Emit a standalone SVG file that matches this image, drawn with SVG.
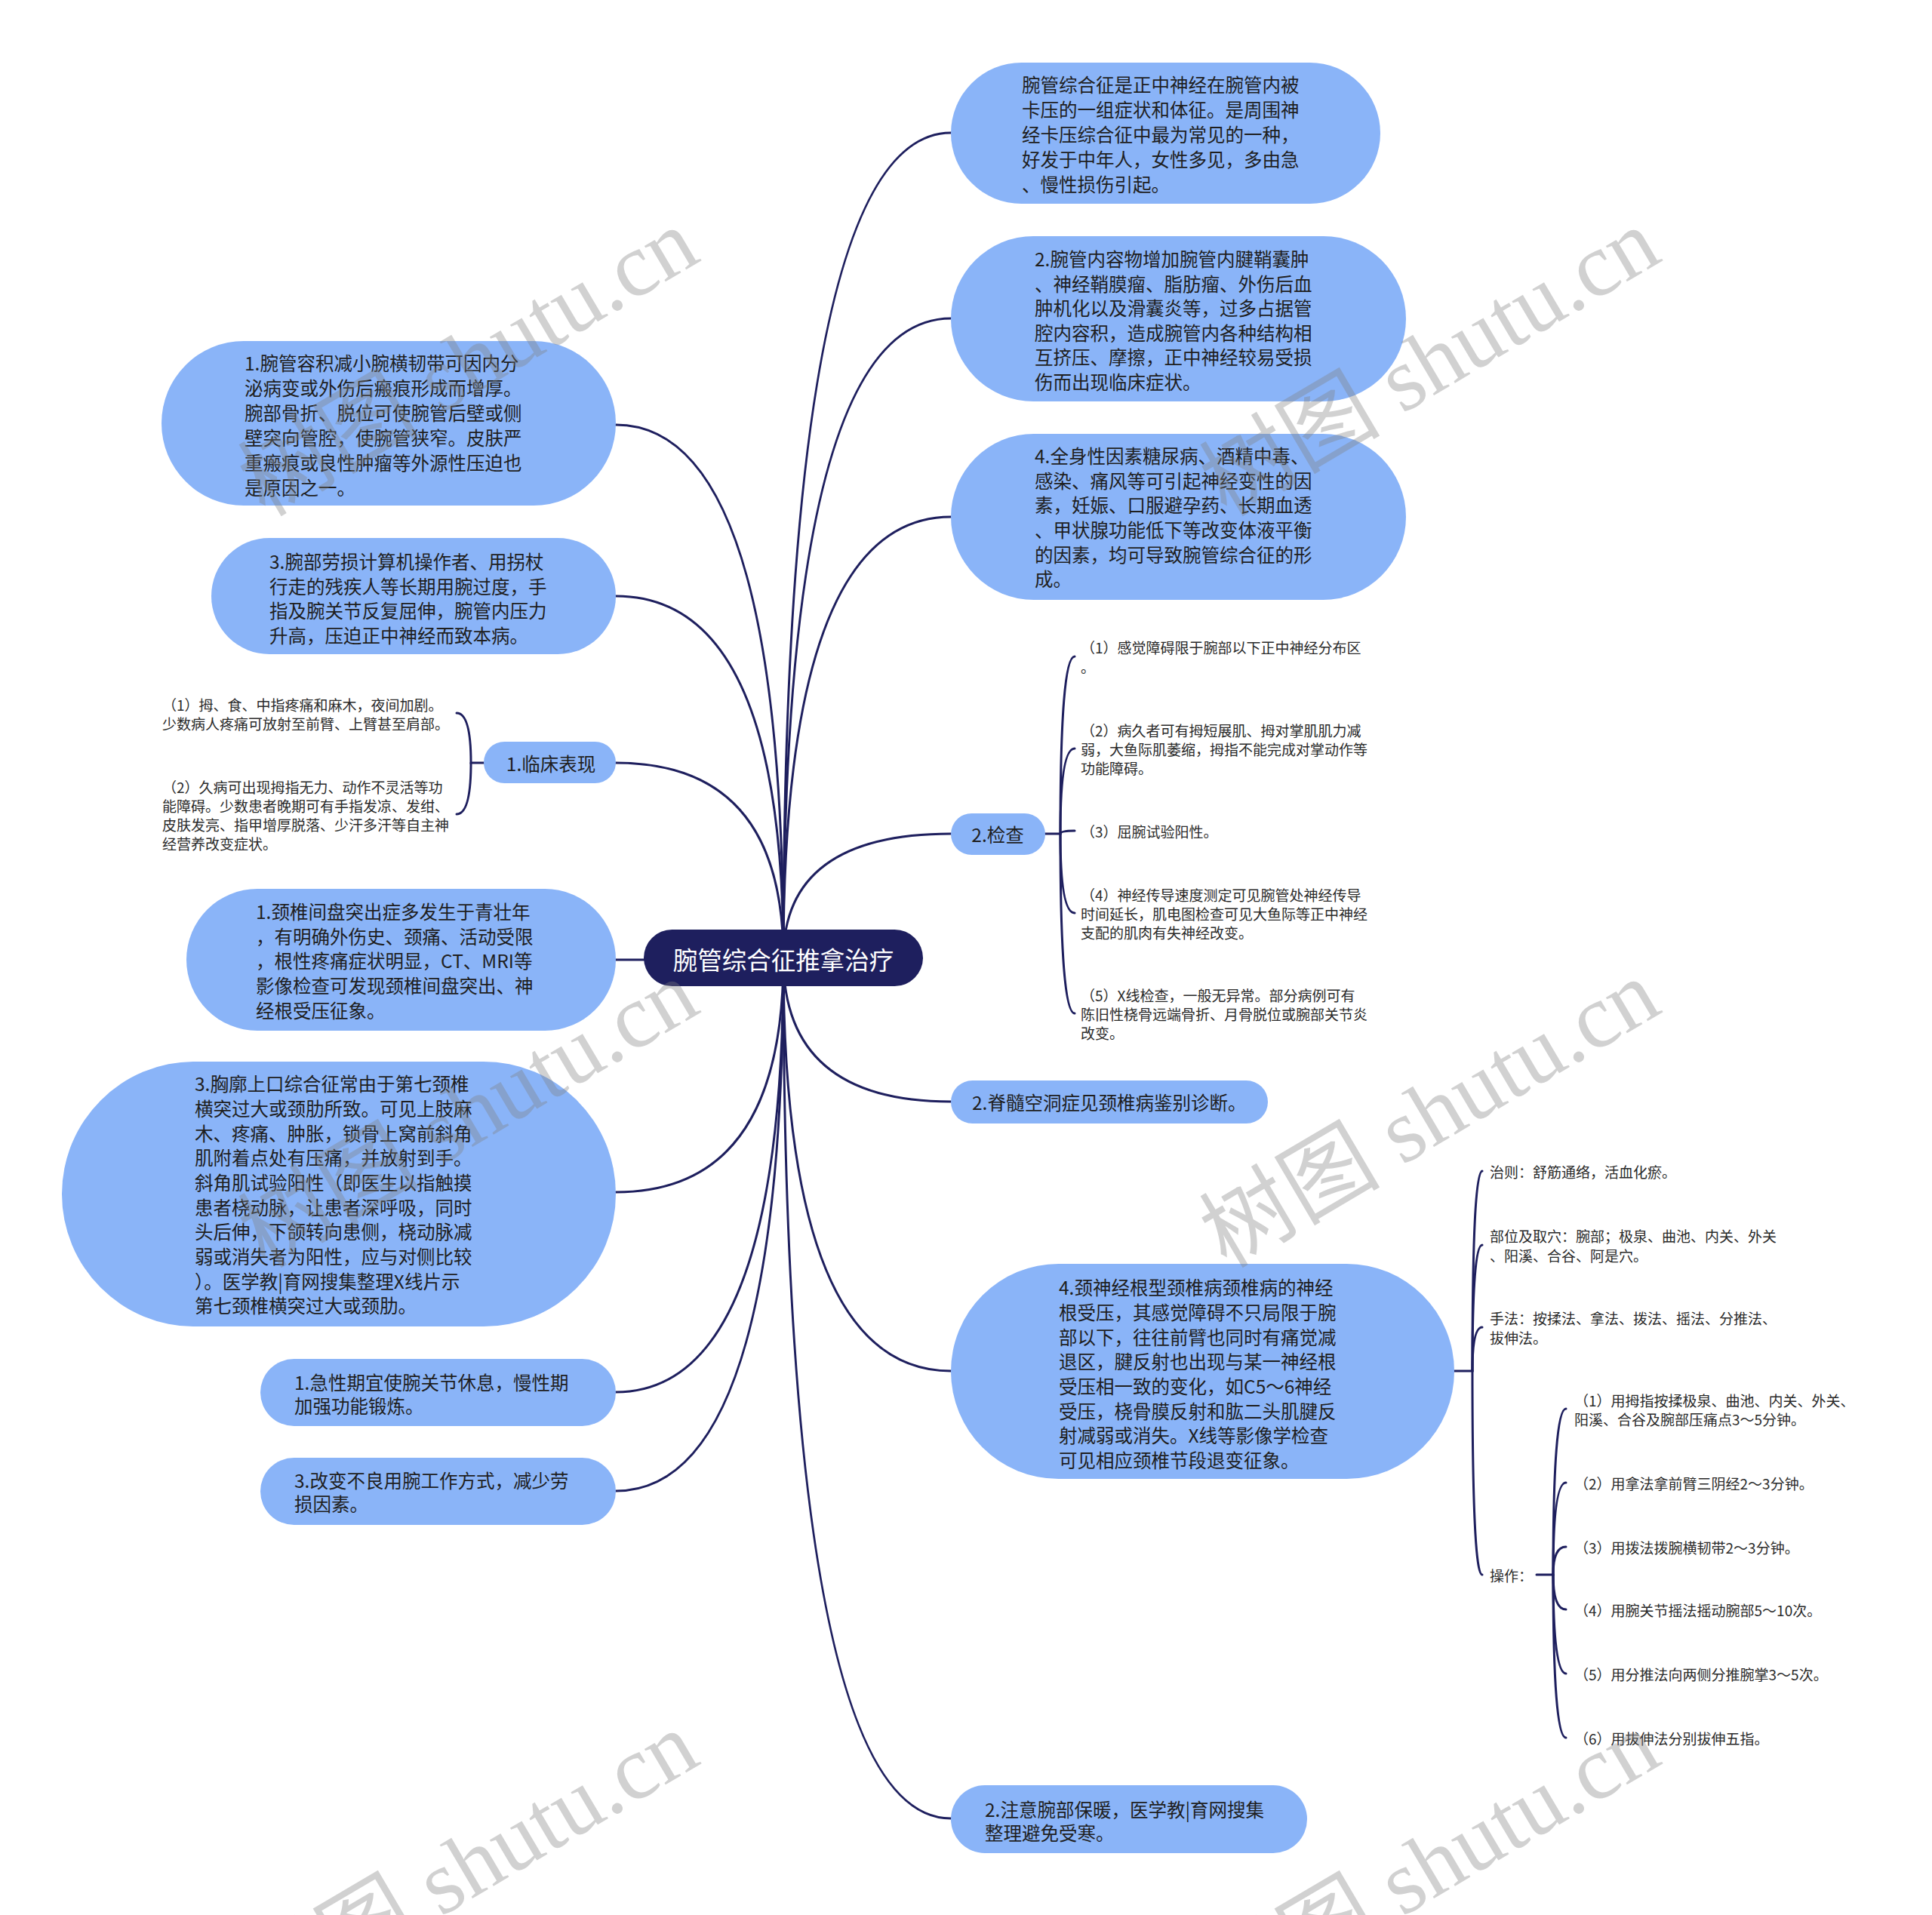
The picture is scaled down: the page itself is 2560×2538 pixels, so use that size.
<svg xmlns="http://www.w3.org/2000/svg" width="2560" height="2538" viewBox="0 0 2560 2538">
<style>
.bg{fill:#ffffff}
.n{fill:#8AB4F8}
.c{fill:none;stroke:#1E1F5E;stroke-width:3;stroke-linecap:round}
.t{font-family:"Noto Sans CJK SC","Noto Sans",sans-serif;font-size:24.5px;fill:#1f1f1f;dominant-baseline:central}
.s{font-family:"Noto Sans CJK SC","Noto Sans",sans-serif;font-size:19px;fill:#2a2a2a;dominant-baseline:central}
.r{font-family:"Noto Sans CJK SC","Noto Sans",sans-serif;font-size:32.5px;fill:#ffffff;dominant-baseline:central;text-anchor:middle}
.m{text-anchor:middle}
.w{font-family:"Liberation Serif","Noto Sans CJK SC",serif;font-size:120px;fill:#808080;fill-opacity:0.36}
</style>
<rect class="bg" x="0" y="0" width="2560" height="2538"/>
<g id="connectors">
<path class="c" d="M1038 1270 Q1038 176 1260 176"/>
<path class="c" d="M1038 1270 Q1038 422 1260 422"/>
<path class="c" d="M1038 1270 Q1038 685 1260 685"/>
<path class="c" d="M1038 1270 Q1038 1105 1260 1105"/>
<path class="c" d="M1038 1270 Q1038 1460 1260 1460"/>
<path class="c" d="M1038 1270 Q1038 1817 1260 1817"/>
<path class="c" d="M1038 1270 Q1038 2410 1260 2410"/>
<path class="c" d="M1038 1270 Q1038 563 816 563"/>
<path class="c" d="M1038 1270 Q1038 790 816 790"/>
<path class="c" d="M1038 1270 Q1038 1011 816 1011"/>
<path class="c" d="M1038 1270 Q1038 1272 816 1272"/>
<path class="c" d="M1038 1270 Q1038 1580 816 1580"/>
<path class="c" d="M1038 1270 Q1038 1845 816 1845"/>
<path class="c" d="M1038 1270 Q1038 1976 816 1976"/>
<path class="c" d="M1385 1105 L1405 1105 Q1405 870 1424 870"/>
<path class="c" d="M1405 1105 Q1405 992 1424 992"/>
<path class="c" d="M1405 1105 Q1405 1101 1424 1101"/>
<path class="c" d="M1405 1105 Q1405 1210 1424 1210"/>
<path class="c" d="M1405 1105 Q1405 1343 1424 1343"/>
<path class="c" d="M641 1011 L624 1011 Q624 945 605 945"/>
<path class="c" d="M624 1011 Q624 1079 605 1079"/>
<path class="c" d="M1927 1817 L1951 1817 Q1951 1552 1964 1552"/>
<path class="c" d="M1951 1817 Q1951 1650 1964 1650"/>
<path class="c" d="M1951 1817 Q1951 1759 1964 1759"/>
<path class="c" d="M1951 1817 Q1951 2087 1964 2087"/>
<path class="c" d="M2036 2087 L2058 2087 Q2058 1867 2075 1867"/>
<path class="c" d="M2058 2087 Q2058 1965 2075 1965"/>
<path class="c" d="M2058 2087 Q2058 2050 2075 2050"/>
<path class="c" d="M2058 2087 Q2058 2133 2075 2133"/>
<path class="c" d="M2058 2087 Q2058 2218 2075 2218"/>
<path class="c" d="M2058 2087 Q2058 2303 2075 2303"/>
</g>
<g id="root">
<rect x="853" y="1232" width="370" height="75" rx="37.5" fill="#1E1F5E"/>
<text class="r" x="1038" y="1270">腕管综合征推拿治疗</text>
</g>
<g id="r1">
<rect class="n" x="1260" y="83" width="569" height="187" rx="93.5"/>
<text class="t" x="1354" y="111">腕管综合征是正中神经在腕管内被</text>
<text class="t" x="1354" y="144">卡压的一组症状和体征。是周围神</text>
<text class="t" x="1354" y="177">经卡压综合征中最为常见的一种，</text>
<text class="t" x="1354" y="210">好发于中年人，女性多见，多由急</text>
<text class="t" x="1354" y="243">、慢性损伤引起。</text>
</g>
<g id="r2">
<rect class="n" x="1260" y="313" width="603" height="219" rx="109.5"/>
<text class="t" x="1371" y="342">2.腕管内容物增加腕管内腱鞘囊肿</text>
<text class="t" x="1371" y="375">、神经鞘膜瘤、脂肪瘤、外伤后血</text>
<text class="t" x="1371" y="407">肿机化以及滑囊炎等，过多占据管</text>
<text class="t" x="1371" y="440">腔内容积，造成腕管内各种结构相</text>
<text class="t" x="1371" y="472">互挤压、摩擦，正中神经较易受损</text>
<text class="t" x="1371" y="505">伤而出现临床症状。</text>
</g>
<g id="r3">
<rect class="n" x="1260" y="575" width="603" height="220" rx="110"/>
<text class="t" x="1371" y="603">4.全身性因素糖尿病、酒精中毒、</text>
<text class="t" x="1371" y="636">感染、痛风等可引起神经变性的因</text>
<text class="t" x="1371" y="668">素，妊娠、口服避孕药、长期血透</text>
<text class="t" x="1371" y="701">、甲状腺功能低下等改变体液平衡</text>
<text class="t" x="1371" y="734">的因素，均可导致腕管综合征的形</text>
<text class="t" x="1371" y="766">成。</text>
</g>
<g id="r4">
<rect class="n" x="1260" y="1078" width="125" height="55" rx="27.5"/>
<text class="t m" x="1322" y="1105">2.检查</text>
</g>
<g id="r4-children">
<text class="s" x="1432" y="857">（1）感觉障碍限于腕部以下正中神经分布区</text>
<text class="s" x="1432" y="883">。</text>
<text class="s" x="1432" y="967">（2）病久者可有拇短展肌、拇对掌肌肌力减</text>
<text class="s" x="1432" y="992">弱，大鱼际肌萎缩，拇指不能完成对掌动作等</text>
<text class="s" x="1432" y="1017">功能障碍。</text>
<text class="s" x="1432" y="1101">（3）屈腕试验阳性。</text>
<text class="s" x="1432" y="1185">（4）神经传导速度测定可见腕管处神经传导</text>
<text class="s" x="1432" y="1210">时间延长，肌电图检查可见大鱼际等正中神经</text>
<text class="s" x="1432" y="1235">支配的肌肉有失神经改变。</text>
<text class="s" x="1432" y="1318">（5）X线检查，一般无异常。部分病例可有</text>
<text class="s" x="1432" y="1343">陈旧性桡骨远端骨折、月骨脱位或腕部关节炎</text>
<text class="s" x="1432" y="1368">改变。</text>
</g>
<g id="r5">
<rect class="n" x="1260" y="1432" width="420" height="57" rx="28.5"/>
<text class="t" x="1288" y="1460">2.脊髓空洞症见颈椎病鉴别诊断。</text>
</g>
<g id="r6">
<rect class="n" x="1260" y="1675" width="667" height="285" rx="142.5"/>
<text class="t" x="1403" y="1705">4.颈神经根型颈椎病颈椎病的神经</text>
<text class="t" x="1403" y="1738">根受压，其感觉障碍不只局限于腕</text>
<text class="t" x="1403" y="1771">部以下，往往前臂也同时有痛觉减</text>
<text class="t" x="1403" y="1803">退区，腱反射也出现与某一神经根</text>
<text class="t" x="1403" y="1836">受压相一致的变化，如C5～6神经</text>
<text class="t" x="1403" y="1869">受压，桡骨膜反射和肱二头肌腱反</text>
<text class="t" x="1403" y="1901">射减弱或消失。X线等影像学检查</text>
<text class="t" x="1403" y="1934">可见相应颈椎节段退变征象。</text>
</g>
<g id="r6-children">
<text class="s" x="1974" y="1552">治则：舒筋通络，活血化瘀。</text>
<text class="s" x="1974" y="1637">部位及取穴：腕部；极泉、曲池、内关、外关</text>
<text class="s" x="1974" y="1663">、阳溪、合谷、阿是穴。</text>
<text class="s" x="1974" y="1746">手法：按揉法、拿法、拨法、摇法、分推法、</text>
<text class="s" x="1974" y="1772">拔伸法。</text>
<text class="s" x="1974" y="2087">操作：</text>
</g>
<g id="op-children">
<text class="s" x="2086" y="1855">（1）用拇指按揉极泉、曲池、内关、外关、</text>
<text class="s" x="2086" y="1880">阳溪、合谷及腕部压痛点3～5分钟。</text>
<text class="s" x="2086" y="1965">（2）用拿法拿前臂三阴经2～3分钟。</text>
<text class="s" x="2086" y="2050">（3）用拨法拨腕横韧带2～3分钟。</text>
<text class="s" x="2086" y="2133">（4）用腕关节摇法摇动腕部5～10次。</text>
<text class="s" x="2086" y="2218">（5）用分推法向两侧分推腕掌3～5次。</text>
<text class="s" x="2086" y="2303">（6）用拔伸法分别拔伸五指。</text>
</g>
<g id="r7">
<rect class="n" x="1260" y="2366" width="472" height="90" rx="45"/>
<text class="t" x="1305" y="2397">2.注意腕部保暖，医学教|育网搜集</text>
<text class="t" x="1305" y="2428">整理避免受寒。</text>
</g>
<g id="l1">
<rect class="n" x="214" y="452" width="602" height="218" rx="109"/>
<text class="t" x="324" y="480">1.腕管容积减小腕横韧带可因内分</text>
<text class="t" x="324" y="513">泌病变或外伤后瘢痕形成而增厚。</text>
<text class="t" x="324" y="546">腕部骨折、脱位可使腕管后壁或侧</text>
<text class="t" x="324" y="579">壁突向管腔，使腕管狭窄。皮肤严</text>
<text class="t" x="324" y="612">重瘢痕或良性肿瘤等外源性压迫也</text>
<text class="t" x="324" y="645">是原因之一。</text>
</g>
<g id="l2">
<rect class="n" x="280" y="713" width="536" height="154" rx="77"/>
<text class="t" x="357" y="743">3.腕部劳损计算机操作者、用拐杖</text>
<text class="t" x="357" y="776">行走的残疾人等长期用腕过度，手</text>
<text class="t" x="357" y="808">指及腕关节反复屈伸，腕管内压力</text>
<text class="t" x="357" y="841">升高，压迫正中神经而致本病。</text>
</g>
<g id="l3">
<rect class="n" x="641" y="983" width="175" height="55" rx="27.5"/>
<text class="t m" x="730" y="1011">1.临床表现</text>
</g>
<g id="l3-children">
<text class="s" x="215" y="933">（1）拇、食、中指疼痛和麻木，夜间加剧。</text>
<text class="s" x="215" y="958">少数病人疼痛可放射至前臂、上臂甚至肩部。</text>
<text class="s" x="215" y="1042">（2）久病可出现拇指无力、动作不灵活等功</text>
<text class="s" x="215" y="1067">能障碍。少数患者晚期可有手指发凉、发绀、</text>
<text class="s" x="215" y="1092">皮肤发亮、指甲增厚脱落、少汗多汗等自主神</text>
<text class="s" x="215" y="1117">经营养改变症状。</text>
</g>
<g id="l4">
<rect class="n" x="247" y="1178" width="569" height="188" rx="94"/>
<text class="t" x="339" y="1207">1.颈椎间盘突出症多发生于青壮年</text>
<text class="t" x="339" y="1240">，有明确外伤史、颈痛、活动受限</text>
<text class="t" x="339" y="1272">，根性疼痛症状明显，CT、MRI等</text>
<text class="t" x="339" y="1305">影像检查可发现颈椎间盘突出、神</text>
<text class="t" x="339" y="1338">经根受压征象。</text>
</g>
<g id="l5">
<rect class="n" x="82" y="1407" width="734" height="351" rx="175.5"/>
<text class="t" x="258" y="1435">3.胸廓上口综合征常由于第七颈椎</text>
<text class="t" x="258" y="1468">横突过大或颈肋所致。可见上肢麻</text>
<text class="t" x="258" y="1501">木、疼痛、肿胀，锁骨上窝前斜角</text>
<text class="t" x="258" y="1533">肌附着点处有压痛，并放射到手。</text>
<text class="t" x="258" y="1566">斜角肌试验阳性（即医生以指触摸</text>
<text class="t" x="258" y="1599">患者桡动脉，让患者深呼吸，同时</text>
<text class="t" x="258" y="1631">头后伸，下颌转向患侧，桡动脉减</text>
<text class="t" x="258" y="1664">弱或消失者为阳性，应与对侧比较</text>
<text class="t" x="258" y="1697">）。医学教|育网搜集整理X线片示</text>
<text class="t" x="258" y="1729">第七颈椎横突过大或颈肋。</text>
</g>
<g id="l6">
<rect class="n" x="345" y="1801" width="471" height="89" rx="44.5"/>
<text class="t" x="390" y="1831">1.急性期宜使腕关节休息，慢性期</text>
<text class="t" x="390" y="1862">加强功能锻炼。</text>
</g>
<g id="l7">
<rect class="n" x="345" y="1932" width="471" height="89" rx="44.5"/>
<text class="t" x="390" y="1961">3.改变不良用腕工作方式，减少劳</text>
<text class="t" x="390" y="1992">损因素。</text>
</g>
<g id="watermark">
<text class="w" transform="translate(351 686) rotate(-30.5)">树图 shutu.cn</text>
<text class="w" transform="translate(1625 686) rotate(-30.5)">树图 shutu.cn</text>
<text class="w" transform="translate(351 1682) rotate(-30.5)">树图 shutu.cn</text>
<text class="w" transform="translate(1625 1682) rotate(-30.5)">树图 shutu.cn</text>
<text class="w" transform="translate(351 2678) rotate(-30.5)">树图 shutu.cn</text>
<text class="w" transform="translate(1625 2678) rotate(-30.5)">树图 shutu.cn</text>
</g>
</svg>
